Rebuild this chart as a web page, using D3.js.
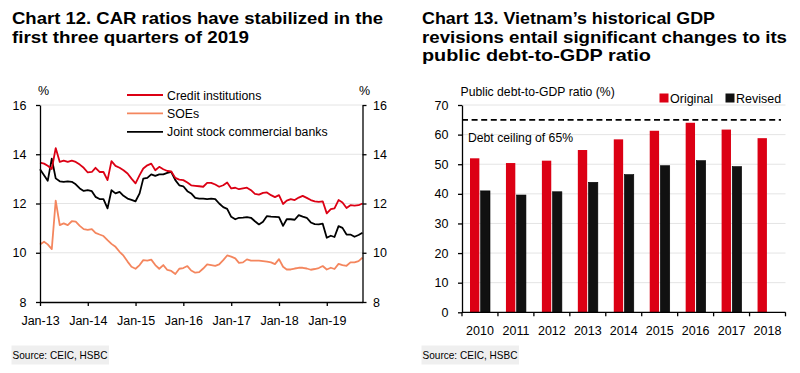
<!DOCTYPE html>
<html>
<head>
<meta charset="utf-8">
<script src="https://cdn.jsdelivr.net/npm/d3@7"></script>
<style>
  body { margin: 0; background: #fff; }
  text { font-family: "Liberation Sans", Arial, sans-serif; fill: #000; }
</style>
</head>
<body>
<script>
// ---- Chart 12 data (monthly, Jan-13 .. Oct-19) ----
const firstMonth = '2013-01';
const creditInst = [13.66, 13.62, 13.53, 13.40, 14.25, 13.69, 13.74, 13.69, 13.74, 13.69,
  13.58, 13.45, 13.26, 13.28, 13.45, 13.28, 13.28, 12.95, 13.72, 13.53,
  13.45, 13.35, 13.22, 13.01, 12.82, 13.15, 13.42, 13.55, 13.62, 13.35,
  13.49, 13.39, 13.32, 13.30, 13.04, 12.97, 12.95, 12.85, 12.74, 12.72,
  12.70, 12.68, 12.84, 12.84, 12.77, 12.68, 12.74, 12.85, 12.61, 12.64,
  12.58, 12.61, 12.64, 12.54, 12.39, 12.36, 12.43, 12.45, 12.34, 12.26,
  12.34, 11.98, 12.12, 12.18, 12.14, 12.24, 12.31, 12.23, 12.14, 12.09,
  12.07, 12.09, 11.60, 11.77, 11.80, 12.14, 12.04, 11.82, 11.93, 11.91,
  11.93, 12.00];
const soes = [10.34, 10.45, 10.34, 10.15, 12.12, 11.12, 11.19, 11.12, 11.28, 11.26,
  11.09, 10.96, 10.93, 10.96, 10.81, 10.74, 10.68, 10.51, 10.36, 10.24,
  10.04, 9.88, 9.64, 9.43, 9.35, 9.50, 9.70, 9.68, 9.72, 9.50,
  9.35, 9.50, 9.30, 9.26, 9.14, 9.35, 9.38, 9.46, 9.28, 9.19,
  9.21, 9.36, 9.53, 9.50, 9.47, 9.53, 9.70, 9.89, 9.84, 9.77,
  9.59, 9.61, 9.73, 9.68, 9.68, 9.68, 9.66, 9.64, 9.61, 9.54,
  9.74, 9.43, 9.32, 9.32, 9.36, 9.39, 9.39, 9.36, 9.31, 9.34,
  9.38, 9.46, 9.32, 9.39, 9.34, 9.55, 9.50, 9.47, 9.61, 9.61,
  9.66, 9.80];
const jointStock = [13.39, 13.15, 12.92, 13.82, 13.02, 12.90, 12.88, 12.90, 12.88, 12.78,
  12.61, 12.51, 12.54, 12.50, 12.27, 12.18, 12.18, 11.80, 12.54, 12.41,
  12.47, 12.31, 12.20, 12.15, 12.09, 12.41, 13.01, 13.04, 13.18, 13.12,
  13.18, 13.18, 13.24, 13.28, 12.95, 12.74, 12.70, 12.50, 12.41, 12.23,
  12.20, 12.20, 12.18, 12.20, 12.18, 12.00, 11.85, 11.78, 11.46, 11.36,
  11.42, 11.43, 11.45, 11.42, 11.28, 11.15, 11.26, 11.49, 11.47, 11.46,
  11.45, 11.09, 11.36, 11.36, 11.34, 11.53, 11.47, 11.42, 11.23, 11.16,
  11.15, 11.18, 10.61, 10.69, 10.64, 11.08, 11.01, 10.74, 10.74, 10.65,
  10.72, 10.81];
const carSeries = ['Credit institutions', 'SOEs', 'Joint stock commercial banks'];
const carTicks = [8, 10, 12, 14, 16];
const xTickLabels = ['Jan-13', 'Jan-14', 'Jan-15', 'Jan-16', 'Jan-17', 'Jan-18', 'Jan-19'];

// ---- Chart 13 data ----
const years = ['2010', '2011', '2012', '2013', '2014', '2015', '2016', '2017', '2018'];
const original = [52.0, 50.4, 51.2, 54.8, 58.4, 61.3, 64.0, 61.7, 58.8];
const revised = [41.0, 39.6, 40.7, 43.9, 46.5, 49.5, 51.2, 49.2, null];
const debtCeiling = 65;
const debtTicks = [0, 10, 20, 30, 40, 50, 60, 70];

const red = '#dc0014';
const salmon = '#f4865e';
const grid = '#e4e4e4';

let svg = d3.select('body').append('svg')
  .attr('width', 800)
  .attr('height', 373);

//titles
function title(lines, x, y0, widths) {
  lines.forEach((t, i) => {
    svg.append('text')
      .attr('x', x).attr('y', y0 + i * 18.5)
      .attr('font-size', '16.5px').attr('font-weight', 'bold')
      .attr('textLength', widths[i]).attr('lengthAdjust', 'spacingAndGlyphs')
      .text(t);
  });
}
title(['Chart 12. CAR ratios have stabilized in the', 'first three quarters of 2019'], 12, 24, [371, 237]);
title(['Chart 13. Vietnam\u2019s historical GDP', 'revisions entail significant changes to its', 'public  debt-to-GDP  ratio'], 422, 24, [293, 365, 229]);

function source(x) {
  svg.append('rect').attr('x', x).attr('y', 345.5).attr('width', 97.5).attr('height', 19).attr('fill', '#efefef');
  svg.append('text').attr('x', x + 1).attr('y', 359).attr('font-size', '11px')
    .attr('textLength', 95).attr('lengthAdjust', 'spacingAndGlyphs')
    .text('Source: CEIC, HSBC');
}
source(11.5);
source(421.5);

// ================= Chart 12 =================
let parseMonth = d3.timeParse('%Y-%m');
let months = creditInst.map((d, i) => d3.timeMonth.offset(parseMonth(firstMonth), i));
let x1 = d3.scaleTime().domain([months[0], months[months.length - 1]]).range([40, 362.5]);
let y1 = d3.scaleLinear().domain([8, 16]).range([302, 105]);
let fmtMonth = d3.timeFormat('%b-%y');

let g1 = svg.append('g');
g1.selectAll('line.grid')
  .data(carTicks.slice(1))
  .enter().append('line')
  .attr('x1', x1.range()[0]).attr('x2', x1.range()[1])
  .attr('y1', d => y1(d)).attr('y2', d => y1(d))
  .attr('stroke', grid).attr('stroke-width', 1);

let lineGen = d3.line().x((d, i) => x1(months[i])).y(d => y1(d));
[[soes, salmon], [jointStock, '#000'], [creditInst, red]].forEach(([vals, c]) => {
  g1.append('path').datum(vals)
    .attr('d', lineGen)
    .attr('fill', 'none').attr('stroke', c)
    .attr('stroke-width', 1.8).attr('stroke-linejoin', 'round');
});

function styleAxis(g) {
  g.selectAll('path, line').attr('stroke', '#000').attr('stroke-width', 1.3);
  g.selectAll('text').attr('font-size', '12.5px').attr('font-family', '"Liberation Sans", Arial, sans-serif');
}

g1.append('g').attr('transform', 'translate(40,0)')
  .call(d3.axisLeft(y1).tickValues(carTicks).tickSize(4).tickSizeOuter(0).tickPadding(9.5))
  .call(styleAxis);
g1.append('g').attr('transform', 'translate(362.5,0)')
  .call(d3.axisRight(y1).tickValues(carTicks).tickSize(4).tickSizeOuter(0).tickPadding(6.5))
  .call(styleAxis);
let janTicks = xTickLabels.map(s => d3.timeParse('%b-%y')(s));
g1.append('g').attr('transform', 'translate(0,302)')
  .call(d3.axisBottom(x1).tickValues(janTicks).tickFormat(fmtMonth).tickSize(4).tickSizeOuter(0).tickPadding(10))
  .call(styleAxis);

g1.append('text').attr('x', 38).attr('y', 95).attr('font-size', '12.5px').text('%');
g1.append('text').attr('x', 359).attr('y', 95).attr('font-size', '12.5px').text('%');

//legend
let legColors = [red, salmon, '#000'];
let leg = g1.selectAll('g.leg').data(carSeries).enter().append('g')
  .attr('transform', (d, i) => `translate(127,${95 + i * 18.4})`);
leg.append('line').attr('x1', 0).attr('x2', 36).attr('y1', 0).attr('y2', 0)
  .attr('stroke', (d, i) => legColors[i]).attr('stroke-width', 1.8);
leg.append('text').attr('x', 40).attr('y', 4.5).attr('font-size', '12.3px').text(d => d);

// ================= Chart 13 =================
let x2 = d3.scaleBand().domain(years).range([462, 785.5]);
let xSub = d3.scaleBand().domain(['Original', 'Revised']).range([8, 28]).paddingInner(0.12);
let y2 = d3.scaleLinear().domain([0, 70]).range([312.3, 105]);

let g2 = svg.append('g');
g2.selectAll('line.grid')
  .data(debtTicks.slice(1))
  .enter().append('line')
  .attr('x1', 462).attr('x2', 785.5)
  .attr('y1', d => y2(d)).attr('y2', d => y2(d))
  .attr('stroke', grid).attr('stroke-width', 1);

g2.selectAll('rect.orig')
  .data(original).enter().append('rect')
  .attr('x', (d, i) => x2(years[i]) + xSub('Original'))
  .attr('y', d => y2(d))
  .attr('width', xSub.bandwidth())
  .attr('height', d => y2(0) - y2(d))
  .attr('fill', red);
g2.selectAll('rect.rev')
  .data(revised.filter(d => d != null)).enter().append('rect')
  .attr('x', (d, i) => x2(years[i]) + xSub('Revised'))
  .attr('y', d => y2(d))
  .attr('width', xSub.bandwidth())
  .attr('height', d => y2(0) - y2(d))
  .attr('fill', '#111').attr('stroke', '#000').attr('stroke-width', 0.6);

g2.append('line')
  .attr('x1', 462).attr('x2', 781)
  .attr('y1', y2(debtCeiling)).attr('y2', y2(debtCeiling))
  .attr('stroke', '#000').attr('stroke-width', 1.8).attr('stroke-dasharray', '6,3.6');
g2.append('text').attr('x', 468).attr('y', 141.5).attr('font-size', '12.2px').text('Debt ceiling of 65%');
g2.append('text').attr('x', 460.5).attr('y', 96).attr('font-size', '12.2px').text('Public debt-to-GDP ratio (%)');

g2.append('g').attr('transform', 'translate(462,0)')
  .call(d3.axisLeft(y2).tickValues(debtTicks).tickSize(4).tickSizeOuter(0).tickPadding(9.5))
  .call(styleAxis);
let xAx = g2.append('g').attr('transform', 'translate(0,312.3)')
  .call(d3.axisBottom(x2).tickSize(0).tickSizeOuter(0).tickPadding(14))
  .call(styleAxis);
xAx.select('.domain').attr('d', 'M462,0H785.5');
// tick marks at category boundaries
xAx.selectAll('line.sep')
  .data(years.concat(['end']))
  .enter().append('line')
  .attr('x1', (d, i) => i < years.length ? x2(d) : x2.range()[1])
  .attr('x2', (d, i) => i < years.length ? x2(d) : x2.range()[1])
  .attr('y1', 0).attr('y2', 4)
  .attr('stroke', '#000').attr('stroke-width', 1.3);

//legend
let leg2 = g2.selectAll('g.leg2').data([['Original', red, 659.5], ['Revised', '#111', 725.5]])
  .enter().append('g').attr('transform', d => `translate(${d[2]},93.5)`);
leg2.append('rect').attr('width', 9).attr('height', 9).attr('fill', d => d[1]);
leg2.append('text').attr('x', 10.5).attr('y', 9).attr('font-size', '12.5px').text(d => d[0]);
</script>
</body>
</html>
